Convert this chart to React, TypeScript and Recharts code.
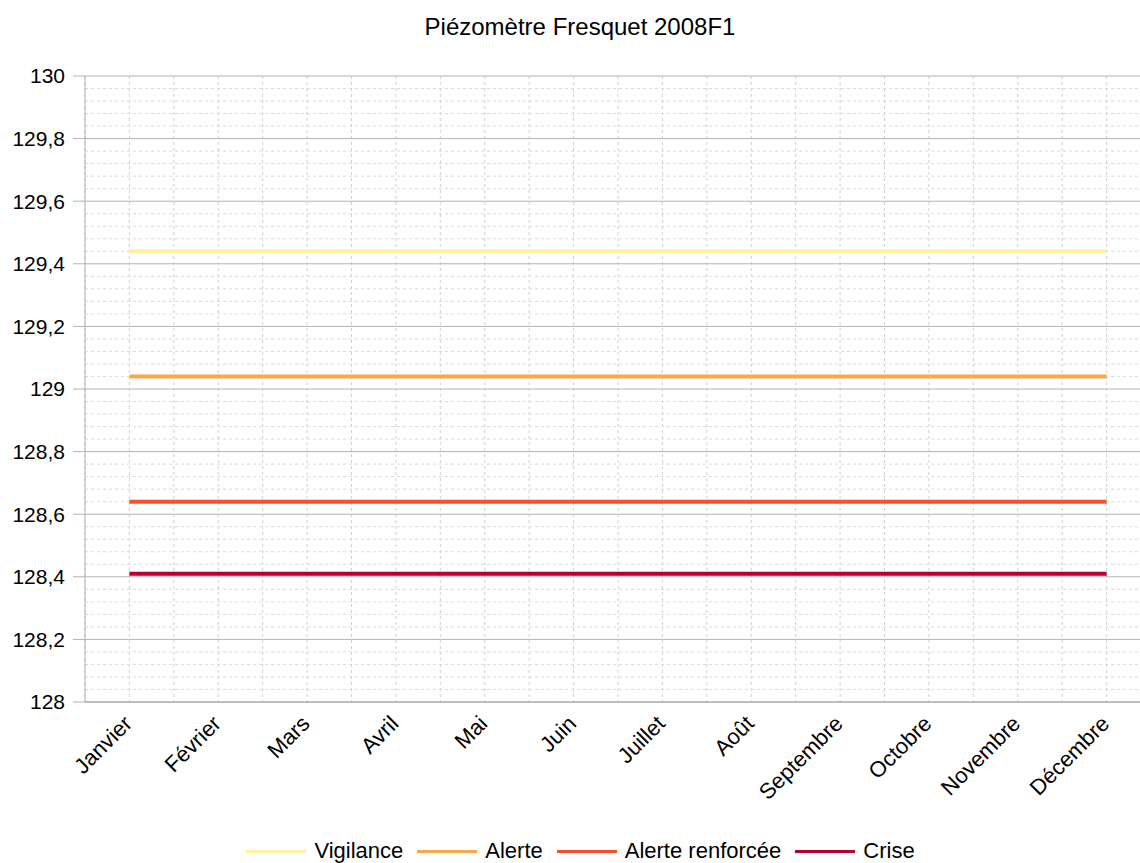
import React from "react";
import {
  LineChart,
  Line,
  XAxis,
  YAxis,
  CartesianGrid,
  Legend,
} from "recharts";

const months = [
  "Janvier",
  "Février",
  "Mars",
  "Avril",
  "Mai",
  "Juin",
  "Juillet",
  "Août",
  "Septembre",
  "Octobre",
  "Novembre",
  "Décembre",
];

const vigilance = [129.44, 129.44, 129.44, 129.44, 129.44, 129.44, 129.44, 129.44, 129.44, 129.44, 129.44, 129.44];
const alerte = [129.04, 129.04, 129.04, 129.04, 129.04, 129.04, 129.04, 129.04, 129.04, 129.04, 129.04, 129.04];
const alerteRenforcee = [128.64, 128.64, 128.64, 128.64, 128.64, 128.64, 128.64, 128.64, 128.64, 128.64, 128.64, 128.64];
const crise = [128.41, 128.41, 128.41, 128.41, 128.41, 128.41, 128.41, 128.41, 128.41, 128.41, 128.41, 128.41];

const yTicks = [128, 128.2, 128.4, 128.6, 128.8, 129, 129.2, 129.4, 129.6, 129.8, 130];
const Y_MIN = 128;
const Y_MAX = 130;

const series = [
  { key: "vigilance", name: "Vigilance", color: "#ffef9f", values: vigilance },
  { key: "alerte", name: "Alerte", color: "#f7a84a", values: alerte },
  { key: "renforcee", name: "Alerte renforcée", color: "#f4512e", values: alerteRenforcee },
  { key: "crise", name: "Crise", color: "#b3002c", values: crise },
];

// rows for the chart, month index as x
const data = months.map((m, i) => {
  const row: Record<string, number | string> = { x: i, month: m };
  series.forEach((s) => {
    row[s.key] = s.values[i];
  });
  return row;
});

// grid helpers: minor lines every 1/5 of a major step, vertical every half month
const minorYTicks: number[] = [];
for (let i = 0; i < yTicks.length - 1; i++) {
  for (let k = 1; k < 5; k++) {
    minorYTicks.push(+(yTicks[i] + ((yTicks[i + 1] - yTicks[i]) * k) / 5).toFixed(3));
  }
}
const xGridTicks: number[] = [];
for (let i = -0.5; i <= months.length - 0.5; i += 0.5) xGridTicks.push(i);

const FONT = '"Liberation Sans", Arial, sans-serif';
const AXIS = "#b3b3b3";

function MonthTick({ x, y, payload }: { x?: number; y?: number; payload?: { value: number } }) {
  return (
    <g transform={`translate(${(x ?? 0) + 4},${(y ?? 0) + 23})`}>
      <text textAnchor="end" transform="rotate(-45)" fontSize={22} fill="#000" fontFamily={FONT}>
        {months[payload?.value ?? 0]}
      </text>
    </g>
  );
}

function LegendContent() {
  return (
    <div
      style={{
        display: "flex",
        justifyContent: "center",
        alignItems: "center",
        height: 24,
        paddingLeft: 24,
        fontFamily: FONT,
        fontSize: 22,
        color: "#000",
      }}
    >
      {series.map((s) => (
        <div key={s.key} style={{ display: "flex", alignItems: "center", marginRight: 14 }}>
          <div style={{ width: 60, height: 3, background: s.color, marginRight: 8 }} />
          <span style={{ lineHeight: "24px" }}>{s.name}</span>
        </div>
      ))}
    </div>
  );
}

export default function App() {
  return (
    <div
      style={{
        position: "absolute",
        left: 0,
        top: 0,
        width: 1140,
        height: 863,
        overflow: "hidden",
        background: "#fff",
        fontFamily: FONT,
      }}
    >
      <div
        style={{
          position: "absolute",
          left: 0,
          top: 15,
          width: 1160,
          textAlign: "center",
          fontSize: 24,
          lineHeight: "24px",
          color: "#000",
        }}
      >
        Piézomètre Fresquet 2008F1
      </div>
      <LineChart
        width={1152}
        height={863}
        data={data}
        margin={{ top: 76, right: 1, bottom: 0, left: 0 }}
      >
        <XAxis xAxisId="grid" type="number" dataKey="x" domain={[-0.5, 11.5]} ticks={xGridTicks} hide />
        <CartesianGrid
          xAxisId="grid"
          horizontal={false}
          stroke="#d0d0d0"
          strokeDasharray="3 3"
        />
        <CartesianGrid
          vertical={false}
          stroke="#dadada"
          strokeDasharray="3 3"
          horizontalCoordinatesGenerator={({ offset }: any) =>
            minorYTicks.map(
              (v) => offset.top + ((Y_MAX - v) / (Y_MAX - Y_MIN)) * offset.height
            )
          }
        />
        <CartesianGrid vertical={false} stroke={AXIS} />
        <XAxis
          type="number"
          dataKey="x"
          domain={[-0.5, 11.5]}
          ticks={months.map((_, i) => i)}
          tick={<MonthTick />}
          tickLine={false}
          tickSize={0}
          tickMargin={0}
          axisLine={{ stroke: AXIS, strokeWidth: 1.5 }}
          height={137}
          interval={0}
        />
        <YAxis
          type="number"
          domain={[Y_MIN, Y_MAX]}
          ticks={yTicks}
          width={85}
          tickSize={12}
          tickMargin={8}
          tickLine={{ stroke: AXIS }}
          axisLine={{ stroke: AXIS }}
          tick={{ fill: "#000", fontSize: 21, fontFamily: FONT }}
          tickFormatter={(v: number) => String(v).replace(".", ",")}
          interval={0}
        />
        {series.map((s) => (
          <Line
            key={s.key}
            dataKey={s.key}
            name={s.name}
            stroke={s.color}
            strokeWidth={4}
            dot={false}
            activeDot={false}
            isAnimationActive={false}
          />
        ))}
        <Legend verticalAlign="bottom" content={<LegendContent />} />
      </LineChart>
    </div>
  );
}
